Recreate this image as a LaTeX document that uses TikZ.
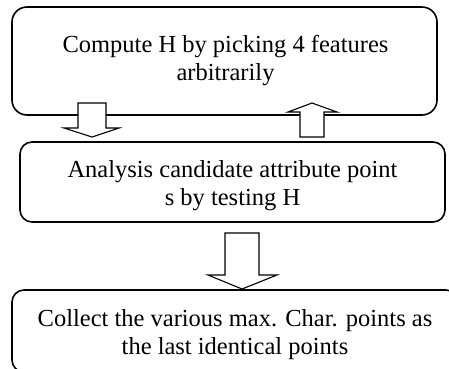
\documentclass[tikz,border=0pt]{standalone}
\usepackage{fontspec}
\setmainfont{Liberation Serif}
\begin{document}
\begin{tikzpicture}[x=1pt,y=-1pt,
  box/.style={draw, line width=1.6pt, rounded corners=#1, inner sep=0pt},
  txt/.style={align=center, font=\fontsize{24.5}{28.5}\selectfont, inner sep=0pt},
  blockarrow/.style={draw, fill=white, line width=1.1pt, line join=miter}]
\useasboundingbox (0,0) rectangle (449,368);
\clip (0,0) rectangle (449,368);
% boxes
\node[box=15pt, minimum width=425pt, minimum height=108pt] (b1) at (224.5,61) {};
\node[box=12pt, minimum width=425pt, minimum height=80pt] (b2) at (232.5,182) {};
\node[box=12pt, minimum width=446pt, minimum height=82pt] (b3) at (235,331) {};
% texts
\node[txt] (t1) at (225.5,60.5) {Compute H by picking 4 features\\arbitrarily};
\node[txt] (t2) at (232.5,185.5) {Analysis candidate attribute point\\s by testing H};
\node[txt] (t3) at (235,334.5) {Collect the various max. Char. points as\\the last identical points};
% block arrows
\draw[blockarrow] (78,103) -- (78,128) -- (64,128) -- (92,137) -- (119,128) -- (106,128) -- (106,103) -- cycle;
\draw[blockarrow] (300,137) -- (300,112) -- (288,112) -- (312,103) -- (337,112) -- (324,112) -- (324,137) -- cycle;
\draw[blockarrow] (225,233) -- (225,275) -- (208,275) -- (242,289) -- (277,275) -- (259,275) -- (259,233) -- cycle;
\end{tikzpicture}
\end{document}
